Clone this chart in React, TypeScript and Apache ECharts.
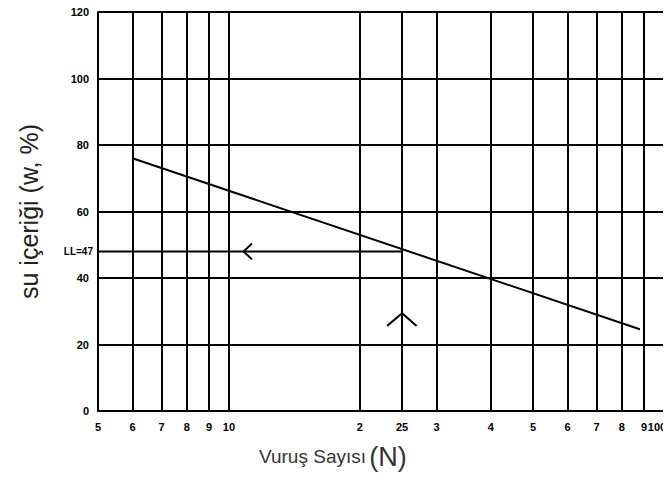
import React, { useEffect, useRef } from "react";
import * as echarts from "echarts";

// Vertical grid positions (number of blows) and their printed labels
const xTicks = [5, 6, 7, 8, 9, 10, 20, 25, 30, 40, 50, 60, 70, 80, 90, 100];
const xTickLabels = ["5", "6", "7", "8", "9", "10", "2", "25", "3", "4", "5", "6", "7", "8", "9", "100"];

// Flow curve (N, w%)
const curveN = [6, 88];
const curveW = [76, 24.6];

// Liquid limit reading
const llN = [5, 25];
const llW = [48, 48];
const llLabel = "LL=47";

// Arrow chevrons (in data units)
const upArrowN = [23.1, 25, 27.0];
const upArrowW = [25.6, 29.4, 25.6];
const leftArrowN = [11.3, 10.8, 11.3];
const leftArrowW = [50.4, 48, 45.6];

const toPairs = (xs: number[], ys: number[]) => xs.map((x, i) => [x, ys[i]]);

const FONT = "'Liberation Sans', Arial, sans-serif";

export default function App() {
  const ref = useRef<HTMLDivElement>(null);
  useEffect(() => {
    if (!ref.current) return;
    const chart = echarts.init(ref.current, undefined, { renderer: "svg" });
    const black = "#000";
    const lineStyle = { color: black, width: 2 };
    chart.setOption({
      animation: false,
      backgroundColor: "#fff",
      grid: { left: 98, right: 7, top: 12, bottom: 69 },
      xAxis: {
        type: "log",
        logBase: 10,
        min: 5,
        max: 100,
        axisLine: { show: true, lineStyle },
        axisTick: { show: false },
        axisLabel: { show: false },
        splitLine: { show: false },
        minorSplitLine: { show: false },
      },
      yAxis: {
        type: "value",
        min: 0,
        max: 120,
        interval: 20,
        name: "su içeriği (w, %)",
        nameLocation: "middle",
        nameGap: 57,
        nameTextStyle: { fontFamily: FONT, fontSize: 25, color: "#222" },
        axisLine: { show: true, lineStyle },
        axisTick: { show: false },
        axisLabel: {
          fontFamily: FONT,
          fontSize: 11,
          fontWeight: "bold",
          color: black,
          margin: 9,
        },
        splitLine: { show: true, lineStyle },
      },
      graphic: [
        {
          type: "text",
          left: 259,
          top: 443,
          style: {
            text: "{a|Vuruş Sayısı} {b|(N)}",
            rich: {
              a: { fontFamily: FONT, fontSize: 19, fill: "#333", verticalAlign: "middle" },
              b: { fontFamily: FONT, fontSize: 27, fill: "#333", verticalAlign: "middle" },
            },
          },
        },
      ],
      series: [
        {
          type: "line",
          data: toPairs(curveN, curveW),
          showSymbol: false,
          symbol: "none",
          lineStyle,
          markLine: {
            silent: true,
            symbol: "none",
            lineStyle: { color: black, width: 2, type: "solid" },
            label: {
              position: "start",
              distance: 10,
              fontFamily: FONT,
              fontSize: 11,
              fontWeight: "bold",
              color: black,
            },
            data: xTicks.map((v, i) => ({
              xAxis: v,
              label:
                i === xTicks.length - 1
                  ? { formatter: xTickLabels[i], offset: [-7, 0] }
                  : { formatter: xTickLabels[i] },
            })),
          },
        },
        {
          type: "line",
          data: toPairs(llN, llW),
          symbol: "none",
          lineStyle,
          markLine: {
            silent: true,
            symbol: "none",
            lineStyle: { color: "rgba(0,0,0,0)", width: 0 },
            label: {
              show: true,
              position: "start",
              distance: 5,
              fontFamily: FONT,
              fontSize: 10,
              fontWeight: "bold",
              color: black,
              formatter: llLabel,
            },
            data: [[{ coord: [llN[0], llW[0]] }, { coord: [llN[1], llW[1]] }]],
          },
        },
        {
          type: "line",
          data: toPairs(upArrowN, upArrowW),
          symbol: "none",
          lineStyle,
        },
        {
          type: "line",
          data: toPairs(leftArrowN, leftArrowW),
          symbol: "none",
          lineStyle,
        },
      ],
    });
    return () => chart.dispose();
  }, []);
  return <div ref={ref} style={{ width: 671, height: 480, margin: -8 }} />;
}
